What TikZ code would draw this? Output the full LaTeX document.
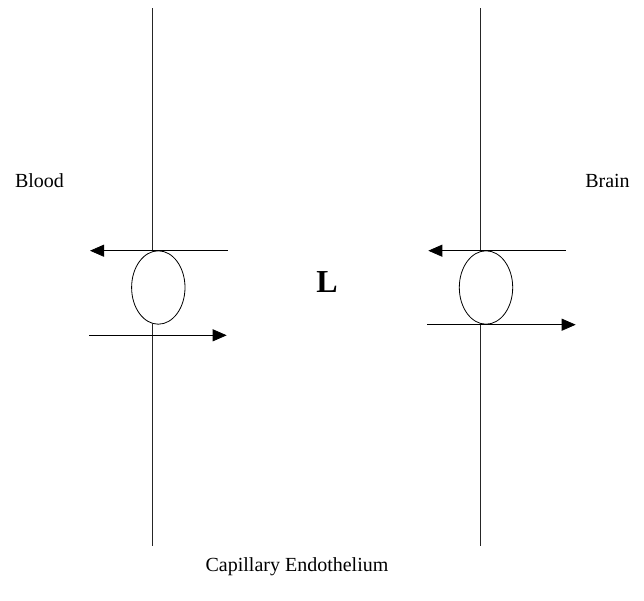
\documentclass[tikz,border=0pt]{standalone}
\usepackage{fontspec}
\setmainfont{Liberation Serif}
\usetikzlibrary{shapes.geometric,arrows.meta}
\begin{document}
\begin{tikzpicture}[x=1pt,y=-1pt,
  wall/.style={line width=0.8pt,draw=black!85},
  carrier/.style={ellipse,draw,line width=0.8pt,minimum width=53.4pt,minimum height=73.4pt,inner sep=0pt},
  flux/.style={line width=0.8pt,-{Triangle[length=14pt,width=12pt]}},
  lbl/.style={font=\fontsize{20}{24}\selectfont,inner sep=0pt}]
\useasboundingbox (0,0) rectangle (644,600);
% carriers
\node[carrier] (cl) at (158.3,287.5) {};
\node[carrier] (cr) at (486,287.5) {};
% walls
\coordinate (lt) at (152.7,8);
\coordinate (lm1) at (152.7,250.9);
\coordinate (lm2) at (152.7,324.2);
\coordinate (lb) at (152.7,546);
\coordinate (rt) at (480.7,8);
\coordinate (rm1) at (480.7,250.9);
\coordinate (rm2) at (480.7,324.2);
\coordinate (rb) at (480.7,546);
\draw[wall] (lt) -- (lm1);
\draw[wall] (lm2) -- (lb);
\draw[wall] (rt) -- (rm1);
\draw[wall] (rm2) -- (rb);
% arrows
\coordinate (la1s) at (227.7,250.7);
\coordinate (la1e) at (90,250.7);
\coordinate (la2s) at (89,335.3);
\coordinate (la2e) at (226.7,335.3);
\coordinate (ra1s) at (565.7,250.7);
\coordinate (ra1e) at (428.3,250.7);
\coordinate (ra2s) at (427.3,324.7);
\coordinate (ra2e) at (575.7,324.7);
\draw[flux] (la1s) -- (la1e);
\draw[flux] (la2s) -- (la2e);
\draw[flux] (ra1s) -- (ra1e);
\draw[flux] (ra2s) -- (ra2e);
% labels
\node[lbl] (blood) at (39.5,181) {Blood};
\node[lbl] (brain) at (607.5,181) {Brain};
\node[inner sep=0pt,font=\fontsize{32}{36}\selectfont\bfseries] (L) at (327,282) {L};
\node[lbl] (cap) at (297,567) {Capillary Endothelium};
\end{tikzpicture}
\end{document}
